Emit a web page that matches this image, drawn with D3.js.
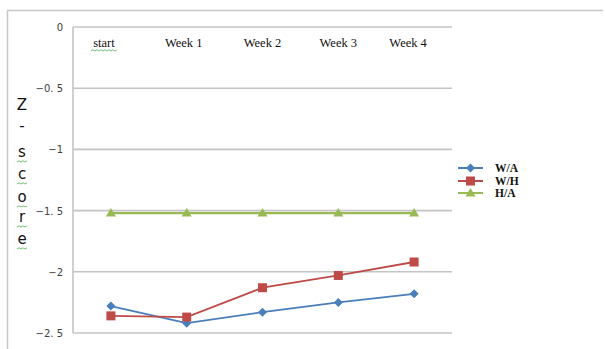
<!DOCTYPE html>
<html><head><meta charset="utf-8">
<script src="https://cdn.jsdelivr.net/npm/d3@7"></script>
<style>body{margin:0;background:#fff}svg{display:block}</style>
</head><body>
<script>
const categories = ["start","Week 1","Week 2","Week 3","Week 4"];
const seriesNames = ["W/A","W/H","H/A"];
const waValues = [-2.28,-2.42,-2.33,-2.25,-2.18];
const whValues = [-2.36,-2.37,-2.13,-2.03,-1.92];
const haValues = [-1.52,-1.52,-1.52,-1.52,-1.52];
const yTicks = [0,-0.5,-1,-1.5,-2,-2.5];
const yTickLabels = ["0","−0. 5","−1","−1. 5","−2","−2. 5"];
const titleLetters = ["Z","-","s","c","o","r","e"];

const W=605,H=349;
const svg=d3.select("body").append("svg").attr("width",W).attr("height",H);
svg.append("line").attr("x1",7).attr("x2",603).attr("y1",10.5).attr("y2",10.5).attr("stroke","#c8c8c8").attr("stroke-width",1.5);
svg.append("line").attr("x1",7.5).attr("x2",7.5).attr("y1",10).attr("y2",349).attr("stroke","#c8c8c8").attr("stroke-width",1.5);

const x=d3.scaleBand().domain(categories).range([73,452]);
const y=d3.scaleLinear().domain([-2.5,0]).range([333,27]);

svg.append("g").selectAll("line").data(yTicks).join("line")
  .attr("x1",73).attr("x2",452).attr("y1",d=>y(d)).attr("y2",d=>y(d))
  .attr("stroke","#c4c4c4").attr("stroke-width",1.6);
svg.append("line").attr("x1",73).attr("x2",73).attr("y1",27).attr("y2",333).attr("stroke","#c4c4c4").attr("stroke-width",1.6);

svg.append("g").selectAll("text").data(yTicks).join("text")
  .attr("x",63).attr("y",d=>y(d)+4).attr("text-anchor","end")
  .attr("font-family","DejaVu Sans").attr("font-size",10).attr("fill","#404040")
  .text((d,i)=>yTickLabels[i]);

svg.append("g").selectAll("text").data(categories).join("text")
  .attr("x",(d,i)=>x(d)+x.bandwidth()/2-(i===0?7:(i===1?3:(i===4?6:0))))
  .attr("y",47).attr("text-anchor","middle")
  .attr("font-family","Liberation Serif").attr("font-size",12.5).attr("fill","#111")
  .text(d=>d);
function squiggle(x0,x1,yy){let p="M"+x0+","+yy;let up=true;for(let xx=x0+2;xx<=x1;xx+=2){p+="L"+xx+","+(yy+(up?-1.2:0));up=!up;}return p;}
{const cx=x("start")+x.bandwidth()/2-7;svg.append("path").attr("d",squiggle(cx-13,cx+13,51)).attr("fill","none").attr("stroke","#4caf50").attr("stroke-width",0.8);}

const ty=[110,131,157,179,202,222,244];
svg.append("g").selectAll("text").data(titleLetters).join("text")
  .attr("x",22).attr("y",(d,i)=>ty[i]).attr("text-anchor","middle")
  .attr("font-family","DejaVu Sans").attr("font-size",15).attr("fill","#111").text(d=>d);
titleLetters.forEach((d,i)=>{ if(i>=2){ svg.append("path").attr("d",squiggle(17,27,ty[i]+5)).attr("fill","none").attr("stroke","#4caf50").attr("stroke-width",0.8);} });

const colors=["#4a7ebb","#be4b48","#98b954"];
const data=[waValues,whValues,haValues];
const cx=d=>x(d)+x.bandwidth()/2;
const line=d3.line().x((v,i)=>cx(categories[i])).y(v=>y(v));
function marker(g,k,px,py){
  if(k===0) g.append("path").attr("d",`M${px},${py-4.5}L${px+4.5},${py}L${px},${py+4.5}L${px-4.5},${py}Z`).attr("fill",colors[0]);
  else if(k===1) g.append("rect").attr("x",px-4.5).attr("y",py-4.5).attr("width",9).attr("height",9).attr("fill",colors[1]);
  else g.append("path").attr("d",`M${px},${py-5}L${px+5},${py+3.5}L${px-5},${py+3.5}Z`).attr("fill",colors[2]);
}
data.forEach((vals,k)=>{
  const g=svg.append("g");
  g.append("path").datum(vals).attr("d",line).attr("fill","none").attr("stroke",colors[k]).attr("stroke-width",k===2?2.2:1.8);
  vals.forEach((v,i)=>marker(g,k,cx(categories[i]),y(v)));
});

const ly=[168,181,193];
seriesNames.forEach((n,k)=>{
  const g=svg.append("g");
  g.append("line").attr("x1",458).attr("x2",483).attr("y1",ly[k]).attr("y2",ly[k]).attr("stroke",colors[k]).attr("stroke-width",2);
  marker(g,k,470.5,ly[k]);
  g.append("text").attr("x",495).attr("y",ly[k]+4).attr("font-family","Liberation Serif").attr("font-weight","bold").attr("font-size",11.5).attr("fill","#111").text(n);
});
</script>
</body></html>
